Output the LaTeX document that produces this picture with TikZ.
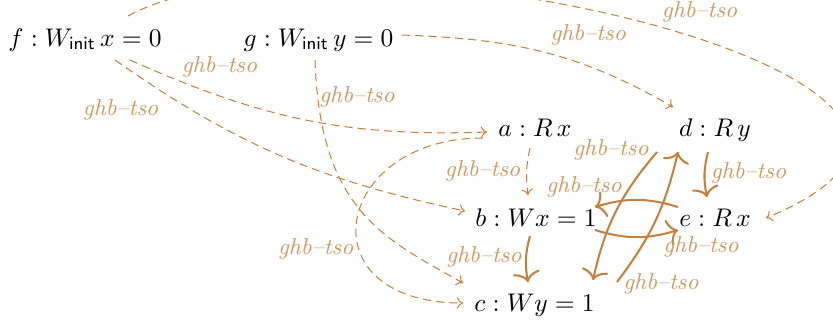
\documentclass[tikz,border=0pt]{standalone}
\usetikzlibrary{arrows.meta,calc}
\definecolor{edgec}{RGB}{196,128,62}
\colorlet{lblc}{edgec!80!white}
\begin{document}
\begin{tikzpicture}[x=0.3922pt,y=0.3922pt,
  ev/.style={inner sep=0pt, text height=7pt, text depth=2pt, anchor=base},
  ghb/.style={draw=edgec, line width=0.4pt, dash pattern=on 3.2pt off 2pt,
    -{Computer Modern Rightarrow[length=2.4pt,width=4.5pt]}},
  ghbs/.style={draw=edgec, line width=0.8pt,
    -{Computer Modern Rightarrow[length=4pt,width=10.5pt]}},
  lbl/.style={text=lblc, font=\small\itshape, inner sep=0pt}]
\useasboundingbox (0,0) rectangle (833,-322);
\clip (0,0) rectangle (833,-322);
% events
\node[ev] (f) at (85,-46) {$f : W_{\mathsf{init}}\, x = 0$};
\node[ev] (g) at (318.5,-46) {$g : W_{\mathsf{init}}\, y = 0$};
\node[ev] (a) at (535,-136) {$a : R\, x$};
\node[ev] (d) at (715,-136) {$d : R\, y$};
\node[ev] (b) at (536,-226) {$b : W x = 1$};
\node[ev] (e) at (715,-226) {$e : R\, x$};
\node[ev] (c) at (534.5,-311) {$c : W y = 1$};
% dashed ghb-tso edges
\draw[ghb] ($(f.base)+(43,30)$) .. controls +(202,111) and +(334,138) ..
  node[lbl,pos=.55,shift={(1,27)}] {ghb--tso} ($(e.base)+(51,8)$);
\draw[ghb] ($(g.base)+(83.5,11)$) to[out=-2,in=150]
  node[lbl,pos=.6,shift={(20,24)}] {ghb--tso} ($(d.base)+(-42,29)$);
\draw[ghb] ($(f.base)+(45,-14)$) to[out=-24,in=182]
  node[lbl,pos=.2,shift={(16,23)}] {ghb--tso} ($(a.base)+(-48,4)$);
\draw[ghb] ($(f.base)+(30,-14)$) to[out=-35,in=168]
  node[lbl,pos=.1,shift={(-30,-26)}] {ghb--tso} ($(b.base)+(-71,15)$);
\draw[ghb] ($(g.base)+(-3.5,-14)$) .. controls +(5,-150) and +(-80,45) ..
  node[lbl,pos=.15,shift={(36,23)}] {ghb--tso} ($(c.base)+(-71.5,28)$);
\draw[ghb] ($(a.base)+(-52,-2)$) .. controls +(-150,0) and +(-160,0) ..
  node[lbl,pos=.6,shift={(-42,-4)}] {ghb--tso} ($(c.base)+(-71.5,8)$);
\draw[ghb] ($(a.base)+(-5,-12)$) to[bend right=10]
  node[lbl,pos=.5,shift={(-44,1)}] {ghb--tso} ($(b.base)+(-8,31)$);
% solid ghb-tso edges
\draw[ghbs] ($(b.base)+(-6,-10)$) to[bend right=13]
  node[lbl,pos=.5,shift={(-42,2)}] {ghb--tso} ($(c.base)+(-6.5,29)$);
\draw[ghbs] ($(d.base)+(-7,-16)$) to[bend right=13]
  node[lbl,pos=.5,shift={(44,1.5)}] {ghb--tso} ($(e.base)+(-8,29)$);
\draw[ghbs] ($(e.base)+(-37,19)$) to[bend right=17]
  node[lbl,pos=1,shift={(-11,20)}] {ghb--tso} ($(b.base)+(59,19)$);
\draw[ghbs] ($(b.base)+(59,-4)$) to[bend right=17]
  node[lbl,pos=1,shift={(23,-17)}] {ghb--tso} ($(e.base)+(-37,-4)$);
\draw[ghbs] ($(c.base)+(82.5,29)$) to[bend right=12]
  node[lbl,pos=0,shift={(44,-2)}] {ghb--tso} ($(d.base)+(-37,-16)$);
\draw[ghbs] ($(d.base)+(-58,-16)$) to[bend right=14]
  node[lbl,pos=0,shift={(-46,2)}] {ghb--tso} ($(c.base)+(58.5,31)$);
\end{tikzpicture}
\end{document}
